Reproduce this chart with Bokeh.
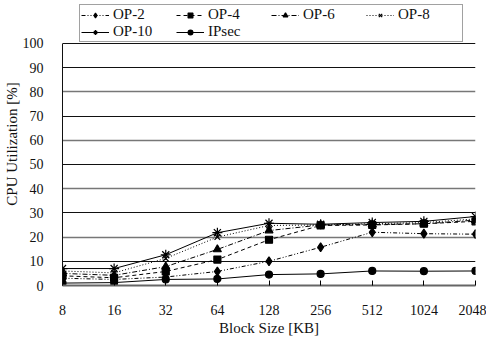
from bokeh.plotting import figure
from bokeh.models import Range1d, FixedTicker, Legend, LegendItem, Grid
from bokeh.embed import file_html
from bokeh.resources import INLINE

block_sizes = ["8", "16", "32", "64", "128", "256", "512", "1024", "2048"]
op2 = [3.0, 2.5, 3.5, 5.8, 10.0, 15.8, 22.0, 21.4, 21.2]
op4 = [4.0, 3.2, 5.8, 10.7, 18.9, 24.8, 25.0, 25.5, 26.5]
op6 = [5.0, 4.2, 7.8, 14.9, 22.7, 25.0, 25.2, 25.5, 27.0]
op8 = [6.0, 5.2, 11.2, 20.0, 24.8, 25.0, 25.5, 26.0, 27.5]
op10 = [7.0, 7.0, 12.7, 21.8, 25.7, 25.3, 26.0, 26.5, 28.5]
ipsec = [1.0, 1.2, 2.5, 2.7, 4.5, 4.8, 6.0, 5.9, 6.0]
y_ticks = [0, 10, 20, 30, 40, 50, 60, 70, 80, 90, 100]

names = ["OP-2", "OP-4", "OP-6", "OP-8", "OP-10", "IPsec"]
series = [op2, op4, op6, op8, op10, ipsec]
markers = ["diamond", "square", "triangle", "x", "asterisk", "circle"]
dashes = ["4 2 1 2 1 2", "4 3", "5 2 1 2", "1 2", "solid", "solid"]
sizes = [9, 7, 8, 8, 10, 7]

x = list(range(len(block_sizes)))
FONT = "Liberation Serif"
Y_TOP = 116.9  # extra headroom above 100 holds the legend

p = figure(width=486, height=341, output_backend="svg", toolbar_location=None,
           x_range=Range1d(0, len(block_sizes) - 1), y_range=Range1d(0, Y_TOP),
           min_border_left=61, min_border_right=11, min_border_top=2, min_border_bottom=56)

p.outline_line_color = None
p.xgrid.visible = False
p.ygrid.visible = False
p.add_layout(Grid(dimension=1, ticker=FixedTicker(ticks=[10, 30, 50, 70, 90, 100]),
                  grid_line_color="#111111", grid_line_width=1))
p.add_layout(Grid(dimension=1, ticker=FixedTicker(ticks=[20, 40, 60, 80]),
                  grid_line_color="#777777", grid_line_width=1.5))
p.add_layout(Grid(dimension=0, ticker=FixedTicker(ticks=[len(block_sizes) - 1]),
                  bounds=(0, 100), grid_line_color="#aaaaaa", grid_line_width=1.5))

p.xaxis.ticker = FixedTicker(ticks=x)
p.xaxis.major_label_overrides = {i: s for i, s in enumerate(block_sizes)}
p.xaxis.major_tick_in = 5
p.xaxis.major_tick_out = 0
p.xaxis.minor_tick_line_color = None
p.xaxis.axis_line_color = "#666666"
p.xaxis.axis_line_width = 2
p.xaxis.major_label_standoff = 19
p.xaxis.axis_label = "Block Size [KB]"
p.xaxis.axis_label_standoff = 2

p.yaxis.ticker = FixedTicker(ticks=y_ticks)
p.yaxis.bounds = (0, 100)
p.yaxis.major_tick_line_color = None
p.yaxis.minor_tick_line_color = None
p.yaxis.axis_line_color = "#111111"
p.yaxis.major_label_standoff = 13
p.yaxis.axis_label = "CPU Utilization [%]"
p.yaxis.axis_label_standoff = 0

for ax in (p.xaxis, p.yaxis):
    ax.major_label_text_font = FONT
    ax.major_label_text_font_size = "14px"
    ax.major_label_text_color = "#111111"
    ax.axis_label_text_font = FONT
    ax.axis_label_text_font_size = "15px"
    ax.axis_label_text_font_style = "normal"
    ax.axis_label_text_color = "#111111"

items = []
for name, ys, mk, dash, sz in zip(names, series, markers, dashes, sizes):
    r_line = p.line(x, ys, line_color="black", line_width=1, line_dash=dash)
    r_pts = p.scatter(x, ys, marker=mk, size=sz, fill_color="black",
                      line_color="black", line_width=1.2)
    items.append(LegendItem(label=name, renderers=[r_line, r_pts]))

legend = Legend(items=items, location=(17, 243), orientation="horizontal", ncols=4,
                label_text_font=FONT, label_text_font_size="15px",
                label_text_color="#111111", label_text_line_height=0.9,
                label_width=63, label_height=12, glyph_width=28, glyph_height=12,
                label_standoff=4, spacing=0, padding=1, margin=0,
                border_line_color="#444444", border_line_width=1,
                background_fill_color="white", background_fill_alpha=1)
p.add_layout(legend)

open("out.html", "w").write(file_html(p, INLINE))
